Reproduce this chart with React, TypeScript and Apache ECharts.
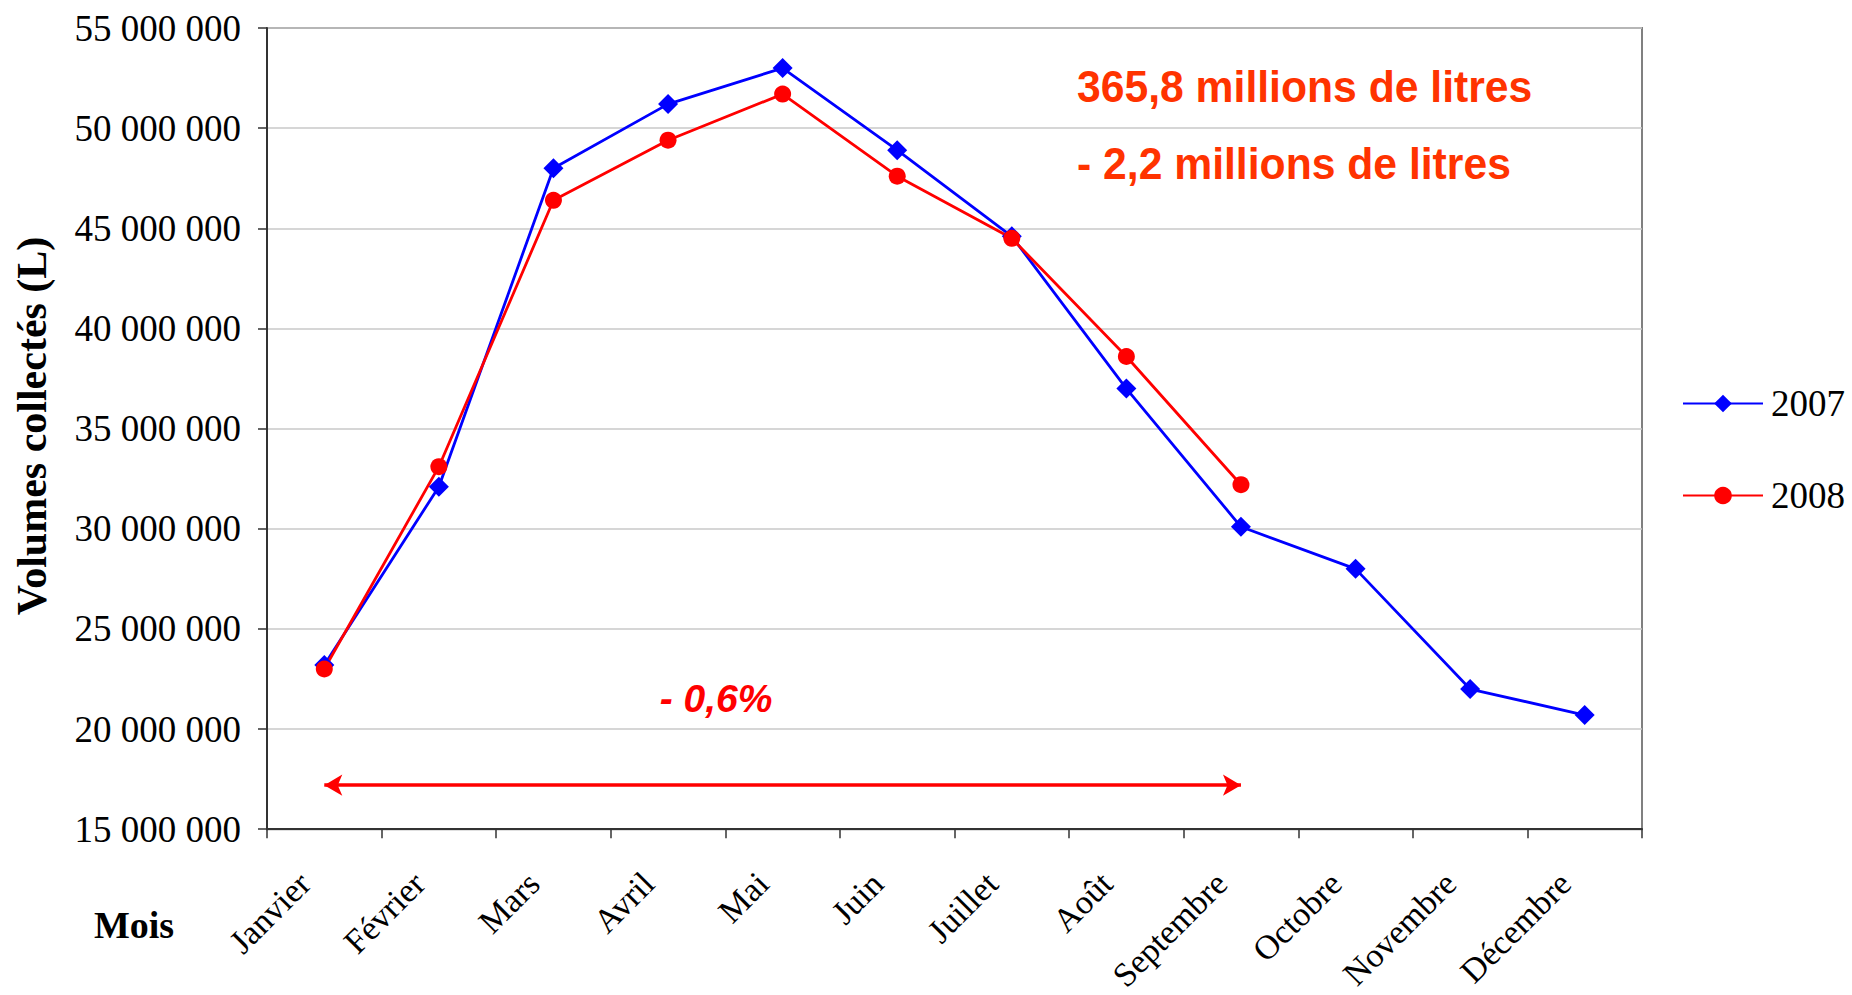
import React, { useEffect, useRef } from "react";
import * as echarts from "echarts";

const months = ["Janvier", "Février", "Mars", "Avril", "Mai", "Juin", "Juillet", "Août", "Septembre", "Octobre", "Novembre", "Décembre"];
const v2007 = [23200000, 32100000, 48000000, 51200000, 53000000, 48900000, 44600000, 37000000, 30100000, 28000000, 22000000, 20700000];
const v2008 = [23000000, 33100000, 46400000, 49400000, 51700000, 47600000, 44500000, 38600000, 32200000];
const yMin = 15000000;
const yMax = 55000000;
const yStep = 5000000;
const arrowLevel = 17200000;
const arrowFrom = "Janvier";
const arrowTo = "Septembre";
const noteTotal = "365,8 millions de litres";
const noteDiff = "- 2,2 millions de litres";
const notePct = "- 0,6%";

const serif = "'Liberation Serif', 'Times New Roman', serif";
const sans = "'Liberation Sans', Arial, sans-serif";

function fmt(v: number) {
  return String(Math.round(v)).replace(/\B(?=(\d{3})+(?!\d))/g, " ");
}

export default function App() {
  const ref = useRef<HTMLDivElement>(null);
  useEffect(() => {
    const chart = echarts.init(ref.current!, null, { renderer: "svg" });
    chart.setOption({
      animation: false,
      backgroundColor: "#ffffff",
      grid: {
        left: 267,
        right: 210,
        top: 28,
        bottom: 161,
        show: true,
        borderColor: "#808080",
        borderWidth: 2,
        backgroundColor: "transparent",
      },
      legend: {
        orient: "vertical",
        left: 1677,
        top: 380,
        itemWidth: 80,
        itemHeight: 22,
        itemGap: 55,
        textStyle: { fontFamily: serif, fontSize: 37, color: "#000", padding: [0, 0, 0, 3] },
        data: ["2007", "2008"],
      },
      xAxis: {
        type: "category",
        data: months,
        boundaryGap: true,
        axisLine: { show: true, lineStyle: { color: "#333", width: 2 } },
        axisTick: { show: true, length: 9, lineStyle: { color: "#333", width: 1.5 } },
        axisLabel: {
          interval: 0,
          rotate: 45,
          margin: 29,
          padding: [0, 28, 0, 0],
          fontFamily: serif,
          fontSize: 34,
          color: "#000",
        },
        splitLine: { show: false },
      },
      yAxis: {
        type: "value",
        min: yMin,
        max: yMax,
        interval: yStep,
        axisLine: { show: true, lineStyle: { color: "#333", width: 2 } },
        axisTick: { show: true, length: 9, lineStyle: { color: "#333", width: 1.5 } },
        axisLabel: {
          margin: 26,
          fontFamily: serif,
          fontSize: 37,
          color: "#000",
          formatter: (v: number) => fmt(v),
        },
        splitLine: { show: true, lineStyle: { color: "#c8c8c8", width: 1.5 } },
      },
      series: [
        {
          name: "2007",
          type: "line",
          data: v2007,
          symbol: "diamond",
          symbolSize: 20,
          lineStyle: { color: "#0000ff", width: 2.8 },
          itemStyle: { color: "#0000ff" },
        },
        {
          name: "2008",
          type: "line",
          data: v2008,
          symbol: "circle",
          symbolSize: 17,
          lineStyle: { color: "#ff0000", width: 2.8 },
          itemStyle: { color: "#ff0000" },
          markLine: {
            silent: true,
            symbol: ["arrow", "arrow"],
            symbolSize: [16, 18],
            label: { show: false },
            lineStyle: { color: "#ff0000", width: 3.5, type: "solid" },
            data: [[{ coord: [arrowFrom, arrowLevel] }, { coord: [arrowTo, arrowLevel] }]],
          },
        },
      ],
      graphic: [
        {
          type: "text",
          x: 32,
          y: 426,
          rotation: Math.PI / 2,
          style: {
            text: "Volumes collectés (L)",
            fontFamily: serif,
            fontWeight: "bold",
            fontSize: 42,
            fill: "#000",
            align: "center",
            verticalAlign: "middle",
          },
        },
        {
          type: "text",
          x: 134,
          y: 925,
          style: {
            text: "Mois",
            fontFamily: serif,
            fontWeight: "bold",
            fontSize: 38,
            fill: "#000",
            align: "center",
            verticalAlign: "middle",
          },
        },
        {
          type: "text",
          x: 1077,
          y: 87,
          scaleX: 0.97,
          style: {
            text: noteTotal,
            fontFamily: sans,
            fontWeight: "bold",
            fontSize: 44,
            fill: "#ff3300",
            align: "left",
            verticalAlign: "middle",
          },
        },
        {
          type: "text",
          x: 1077,
          y: 164,
          scaleX: 0.97,
          style: {
            text: noteDiff,
            fontFamily: sans,
            fontWeight: "bold",
            fontSize: 44,
            fill: "#ff3300",
            align: "left",
            verticalAlign: "middle",
          },
        },
        {
          type: "text",
          x: 716,
          y: 698,
          style: {
            text: notePct,
            fontFamily: sans,
            fontWeight: "bold",
            fontStyle: "italic",
            fontSize: 39,
            fill: "#ff0000",
            align: "center",
            verticalAlign: "middle",
          },
        },
      ],
    });
    return () => chart.dispose();
  }, []);
  return (
    <div
      ref={ref}
      style={{ position: "absolute", left: 0, top: 0, width: 1852, height: 995 }}
    />
  );
}
